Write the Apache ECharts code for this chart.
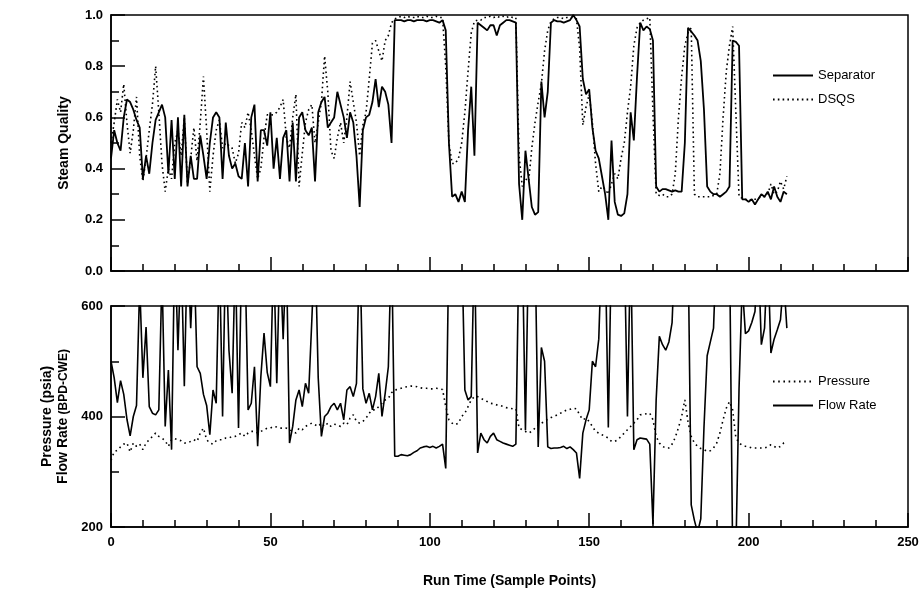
<!DOCTYPE html>
<html>
<head>
<meta charset="utf-8">
<script src="https://cdn.jsdelivr.net/npm/echarts@6/dist/echarts.min.js"></script>
<style>
html, body { margin: 0; padding: 0; background: #fff; }
#chart { width: 923px; height: 598px; }
</style>
</head>
<body>
<div id="chart"></div>
<script>
// sample index = position in array (0..212)
var separator = [
  0.44,0.55,0.50,0.47,0.60,0.67,0.66,0.63,0.59,0.56,
  0.36,0.45,0.38,0.50,0.59,0.62,0.65,0.60,0.38,0.59,
  0.36,0.60,0.33,0.61,0.33,0.45,0.36,0.36,0.53,0.45,
  0.36,0.50,0.60,0.62,0.60,0.36,0.58,0.45,0.40,0.42,
  0.37,0.36,0.50,0.33,0.60,0.65,0.35,0.55,0.55,0.49,
  0.62,0.40,0.52,0.36,0.52,0.55,0.35,0.58,0.35,0.60,
  0.62,0.55,0.53,0.56,0.35,0.62,0.66,0.68,0.56,0.58,
  0.60,0.70,0.65,0.60,0.52,0.62,0.58,0.45,0.25,0.55,
  0.60,0.61,0.66,0.75,0.64,0.72,0.70,0.65,0.50,0.98,
  0.98,0.98,0.975,0.98,0.98,0.975,0.98,0.98,0.98,0.975,
  0.98,0.98,0.975,0.97,0.98,0.94,0.50,0.29,0.30,0.27,
  0.31,0.27,0.55,0.72,0.45,0.97,0.96,0.95,0.94,0.96,
  0.96,0.92,0.96,0.97,0.98,0.98,0.975,0.97,0.34,0.20,
  0.47,0.36,0.25,0.22,0.23,0.74,0.60,0.70,0.97,0.98,
  0.975,0.975,0.97,0.975,0.98,1.00,0.98,0.955,0.75,0.69,
  0.71,0.56,0.47,0.44,0.37,0.30,0.20,0.51,0.27,0.22,
  0.215,0.225,0.30,0.62,0.51,0.76,0.97,0.94,0.955,0.945,
  0.90,0.33,0.31,0.32,0.32,0.315,0.31,0.315,0.31,0.31,
  0.50,0.95,0.935,0.92,0.90,0.82,0.63,0.33,0.31,0.30,
  0.30,0.29,0.30,0.31,0.33,0.90,0.895,0.88,0.28,0.28,
  0.27,0.28,0.26,0.28,0.30,0.29,0.31,0.28,0.33,0.29,
  0.27,0.31,0.30
];
var dsqs = [
  0.50,0.58,0.67,0.62,0.73,0.58,0.46,0.55,0.68,0.45,
  0.35,0.44,0.55,0.65,0.80,0.62,0.42,0.31,0.40,0.36,
  0.50,0.55,0.45,0.60,0.34,0.44,0.56,0.43,0.58,0.76,
  0.55,0.31,0.45,0.55,0.59,0.48,0.50,0.49,0.48,0.42,
  0.46,0.58,0.56,0.62,0.55,0.45,0.36,0.40,0.52,0.61,
  0.61,0.61,0.62,0.64,0.67,0.52,0.48,0.60,0.69,0.33,
  0.46,0.58,0.63,0.65,0.50,0.58,0.66,0.84,0.70,0.47,
  0.44,0.52,0.58,0.50,0.60,0.74,0.66,0.58,0.45,0.57,
  0.62,0.75,0.89,0.90,0.86,0.82,0.90,0.92,0.97,0.985,
  0.99,0.995,0.99,0.995,0.99,0.99,0.995,0.99,0.99,0.995,
  0.99,0.99,0.995,0.99,0.99,0.80,0.50,0.42,0.42,0.44,
  0.50,0.62,0.78,0.93,0.975,0.98,0.98,0.99,0.99,0.995,
  0.99,0.995,0.99,0.995,0.99,0.995,0.99,0.99,0.45,0.33,
  0.36,0.35,0.48,0.58,0.66,0.73,0.86,0.94,0.975,0.985,
  0.99,0.99,0.985,0.99,0.99,0.99,0.985,0.87,0.57,0.64,
  0.69,0.58,0.42,0.31,0.33,0.32,0.30,0.34,0.38,0.36,
  0.44,0.50,0.62,0.72,0.88,0.95,0.97,0.98,0.985,0.99,
  0.62,0.30,0.295,0.30,0.29,0.29,0.30,0.38,0.60,0.76,
  0.88,0.93,0.95,0.30,0.29,0.29,0.29,0.29,0.29,0.295,
  0.30,0.38,0.60,0.78,0.88,0.955,0.62,0.29,0.285,0.28,
  0.275,0.28,0.28,0.285,0.29,0.29,0.30,0.34,0.30,0.31,
  0.35,0.32,0.37
];
var pressure = [
  321,336,339,345,350,352,336,352,346,350,
  340,352,358,364,370,364,361,356,346,358,
  360,358,356,352,352,355,358,355,370,379,
  358,352,350,356,358,358,361,361,364,364,
  367,370,364,370,373,373,370,373,376,379,
  379,382,381,379,379,379,376,373,370,379,
  376,382,385,388,385,382,388,382,388,382,
  386,385,382,388,385,397,403,391,388,391,
  397,406,412,412,418,424,430,433,443,448,
  449,451,453,454,455,455,454,452,451,451,
  450,450,451,450,449,418,394,388,385,388,
  400,406,418,430,436,436,433,430,427,424,
  423,421,420,418,416,415,414,414,379,376,
  373,370,373,379,385,388,391,395,398,400,
  403,406,409,412,413,415,414,403,394,397,
  391,382,373,370,367,364,361,355,355,358,
  364,370,376,382,388,394,403,404,405,406,
  394,364,352,346,343,343,350,362,380,400,
  430,390,364,352,346,342,340,337,338,343,
  352,370,394,415,427,412,362,352,348,346,
  345,343,343,343,343,343,345,349,346,343,
  346,352,355
];
// values beyond 200..600 run off the plot and are clipped, as in the original
var flowRate = [
  500,470,425,465,440,395,365,400,420,640,
  470,562,418,406,403,412,660,382,484,340,
  720,520,700,455,720,560,700,490,478,440,
  420,367,448,424,700,400,720,520,442,700,
  379,700,700,412,424,490,346,472,551,480,
  454,700,460,700,540,700,352,382,430,448,
  418,460,442,575,720,470,364,400,406,418,
  424,412,424,394,448,454,436,460,720,450,
  424,442,412,436,478,400,442,490,720,328,
  328,331,330,329,331,335,338,343,345,346,
  344,346,343,346,350,306,720,720,720,720,
  720,448,430,436,720,334,370,358,352,364,
  370,358,355,352,350,348,346,350,720,720,
  375,720,720,720,345,525,500,345,342,343,
  343,344,346,342,345,340,334,288,370,394,
  412,500,490,540,720,720,380,720,720,720,
  720,720,400,720,340,358,361,360,359,350,
  205,430,545,530,520,535,570,720,720,720,
  720,720,240,212,190,215,380,510,535,560,
  720,720,720,720,720,150,150,450,640,550,
  555,570,590,700,530,560,700,515,540,557,
  575,650,560
];

var FONT = "'Liberation Sans Narrow','Liberation Sans',Arial,sans-serif";

function pairs(arr) {
  return arr.map(function (v, i) { return [i, v]; });
}

var tickStyle = { color: '#000', width: 1.5 };

function xAxisFor(grid, showLabels) {
  return {
    gridIndex: grid, type: 'value', min: 0, max: 250, interval: 50,
    name: showLabels ? 'Run Time (Sample Points)' : '',
    nameLocation: 'middle', nameGap: 47,
    nameTextStyle: { fontFamily: FONT, fontSize: 14, fontWeight: 'bold', color: '#000' },
    axisLine: { lineStyle: { color: '#000', width: 1.5 } },
    axisTick: { inside: true, length: 14, lineStyle: tickStyle },
    minorTick: { show: true, splitNumber: 5, length: 7, lineStyle: tickStyle },
    axisLabel: { show: showLabels, margin: 9, fontFamily: FONT, fontSize: 13, fontWeight: 'bold', color: '#000' },
    splitLine: { show: false }
  };
}

var legendBase = {
  orient: 'vertical', left: 767,
  itemWidth: 40, itemHeight: 14, itemGap: 11,
  itemStyle: { opacity: 0 },
  textStyle: { fontFamily: FONT, fontSize: 13, color: '#000' }
};

var chart = echarts.init(document.getElementById('chart'));
chart.setOption({
  animation: false,
  backgroundColor: '#fff',
  grid: [
    { left: 111, right: 15, top: 15, height: 256, show: true, borderColor: '#000', borderWidth: 1.5 },
    { left: 111, right: 15, top: 306, height: 221, show: true, borderColor: '#000', borderWidth: 1.5 }
  ],
  legend: [
    Object.assign({}, legendBase, { data: ['Separator', 'DSQS'], top: 64 }),
    Object.assign({}, legendBase, { data: ['Pressure', 'Flow Rate'], top: 370 })
  ],
  xAxis: [xAxisFor(0, false), xAxisFor(1, true)],
  yAxis: [
    {
      gridIndex: 0, type: 'value', min: 0, max: 1, interval: 0.2,
      name: 'Steam Quality', nameLocation: 'middle', nameGap: 40,
      nameTextStyle: { fontFamily: FONT, fontSize: 14, fontWeight: 'bold', color: '#000' },
      axisLine: { lineStyle: { color: '#000', width: 1.5 } },
      axisTick: { inside: true, length: 14, lineStyle: tickStyle },
      minorTick: { show: true, splitNumber: 2, length: 8, lineStyle: tickStyle },
      axisLabel: {
        margin: 8, fontFamily: FONT, fontSize: 13, fontWeight: 'bold', color: '#000',
        formatter: function (v) { return v.toFixed(1); }
      },
      splitLine: { show: false }
    },
    {
      gridIndex: 1, type: 'value', min: 200, max: 600, interval: 200,
      name: '{a|Pressure (psia)}\n{a|Flow Rate} {b|(BPD-CWE)}',
      nameLocation: 'middle', nameGap: 38,
      nameTextStyle: {
        color: '#000',
        rich: {
          a: { fontFamily: FONT, fontSize: 14, fontWeight: 'bold', color: '#000', lineHeight: 16 },
          b: { fontFamily: FONT, fontSize: 12, fontWeight: 'bold', color: '#000', lineHeight: 16 }
        }
      },
      axisLine: { lineStyle: { color: '#000', width: 1.5 } },
      axisTick: { inside: true, length: 14, lineStyle: tickStyle },
      minorTick: { show: true, splitNumber: 2, length: 8, lineStyle: tickStyle },
      axisLabel: { margin: 8, fontFamily: FONT, fontSize: 13, fontWeight: 'bold', color: '#000' },
      splitLine: { show: false }
    }
  ],
  series: [
    {
      name: 'Separator', type: 'line', xAxisIndex: 0, yAxisIndex: 0,
      data: pairs(separator), symbol: 'none', color: '#000',
      lineStyle: { color: '#000', width: 1.8, type: 'solid' }
    },
    {
      name: 'DSQS', type: 'line', xAxisIndex: 0, yAxisIndex: 0,
      data: pairs(dsqs), symbol: 'none', color: '#000',
      lineStyle: { color: '#000', width: 1.6, type: [1.6, 3.2] }
    },
    {
      name: 'Pressure', type: 'line', xAxisIndex: 1, yAxisIndex: 1,
      data: pairs(pressure), symbol: 'none', color: '#000',
      lineStyle: { color: '#000', width: 1.6, type: [1.6, 3.6] }
    },
    {
      name: 'Flow Rate', type: 'line', xAxisIndex: 1, yAxisIndex: 1,
      data: pairs(flowRate), symbol: 'none', color: '#000',
      lineStyle: { color: '#000', width: 1.6, type: 'solid' }
    }
  ]
});
</script>
</body>
</html>
